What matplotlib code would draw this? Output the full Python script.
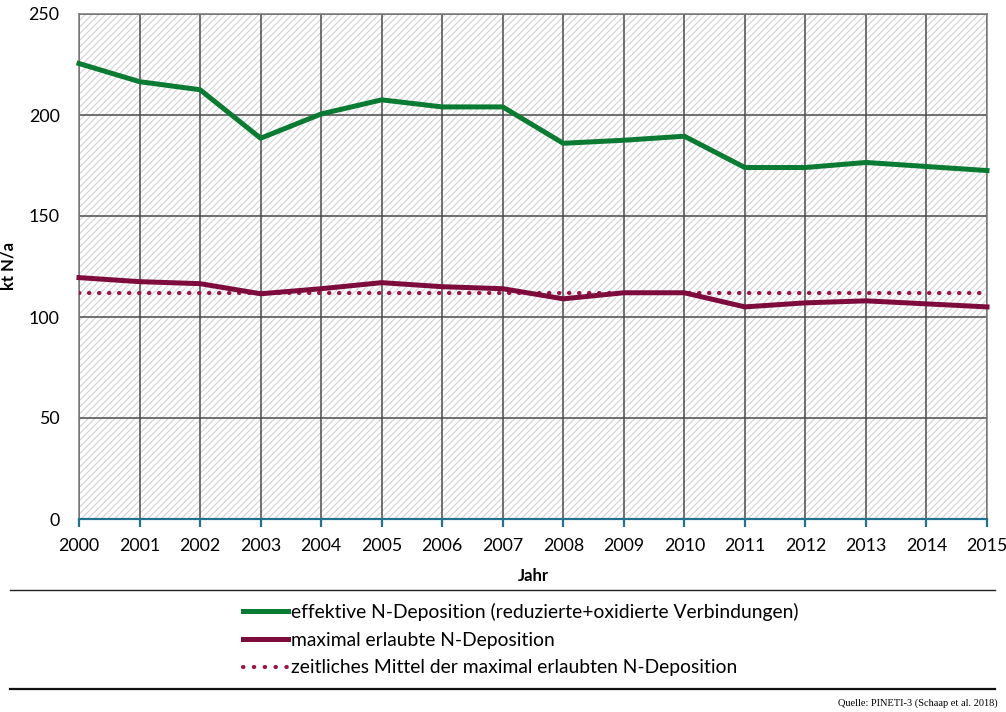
import matplotlib.pyplot as plt
from matplotlib.lines import Line2D
from matplotlib.patches import Rectangle

plt.rcParams["font.family"] = ["Lato", "DejaVu Sans"]
plt.rcParams["hatch.linewidth"] = 0.8

years = list(range(2000, 2016))
effektiv = [225.5, 216.5, 212.5, 188.5, 200.5, 207.5, 204, 204, 186, 187.5, 189.5, 174, 174, 176.5, 174.5, 172.5]
maximal = [119.5, 117.5, 116.5, 111.5, 114, 117, 115, 114, 109, 112, 112, 105, 107, 108, 106.5, 105]
mittel = 111.8
y_ticks = [0, 50, 100, 150, 200, 250]

labels = [
    "effektive N-Deposition (reduzierte+oxidierte Verbindungen)",
    "maximal erlaubte N-Deposition",
    "zeitliches Mittel der maximal erlaubten N-Deposition",
]

green = "#0b7a33"
maroon = "#7d0b3c"
dotcol = "#9a1446"
teal = "#24708f"

fig = plt.figure(figsize=(10.06, 7.12), dpi=100)
ax = fig.add_axes([79 / 1006, 1 - 519 / 712, 908 / 1006, 505 / 712])

# hatched background of the plot area
ax.add_patch(Rectangle((0, 0), 1, 1, transform=ax.transAxes, facecolor="white",
                       edgecolor="#d2d2d2", linewidth=0, hatch="/////", zorder=0))

ax.set_xlim(years[0], years[-1])
ax.set_ylim(0, 250)
ax.set_xticks(years)
ax.set_yticks(y_ticks)
ax.grid(True, color="#4a4a4a", lw=1.1, zorder=1)
ax.set_axisbelow(True)

ax.plot(years, effektiv, color=green, lw=3.6, solid_joinstyle="round", zorder=4, clip_on=False)
ax.plot(years, maximal, color=maroon, lw=3.6, solid_joinstyle="round", zorder=4, clip_on=False)
ax.plot([years[0], years[-1]], [mittel, mittel], color=dotcol, lw=3.0,
        linestyle=(0, (0.1, 2.3)), dash_capstyle="round", zorder=3)

for s in ["top", "right", "left"]:
    ax.spines[s].set_color("#7a7a7a")
    ax.spines[s].set_linewidth(1.1)
ax.spines["bottom"].set_color(teal)
ax.spines["bottom"].set_linewidth(1.6)
ax.spines["bottom"].set_zorder(5)

ax.tick_params(axis="x", colors=teal, length=6, width=1.6, direction="out", pad=8, labelsize=12.8, labelcolor="black")
ax.tick_params(axis="y", length=0, pad=14, labelsize=12.8)

ax.set_xlabel("Jahr", fontsize=12, fontweight="bold")
ax.xaxis.set_label_coords(0.5, -(568 - 519) / 505)
ax.set_ylabel("kt N/a", fontsize=12, fontweight="bold")
ax.yaxis.set_label_coords(-(79 - 16) / 908, 0.5)

# legend area
fig.add_artist(Line2D([10 / 1006, 995 / 1006], [1 - 590 / 712, 1 - 590 / 712], color="#222222", lw=1.0))
fig.add_artist(Line2D([10 / 1006, 995 / 1006], [1 - 689 / 712, 1 - 689 / 712], color="#111111", lw=1.6))

handles = [
    Line2D([], [], color=green, lw=3.6),
    Line2D([], [], color=maroon, lw=3.6),
    Line2D([], [], color=dotcol, lw=3.0, linestyle=(0, (0.1, 2.5)), dash_capstyle="round"),
]
fig.legend(handles, labels, loc="upper left", bbox_to_anchor=(243 / 1006, 1 - 603 / 712),
           frameon=False, fontsize=13.9, handlelength=2.35, handletextpad=0.12,
           labelspacing=0.55, borderpad=0, borderaxespad=0)

fig.text(998 / 1006, 1 - 703 / 712, "Quelle: PINETI-3 (Schaap et al. 2018)",
         ha="right", va="center", fontsize=7.5, family=["Liberation Serif", "DejaVu Serif"])

fig.savefig("out.png", dpi=100)
